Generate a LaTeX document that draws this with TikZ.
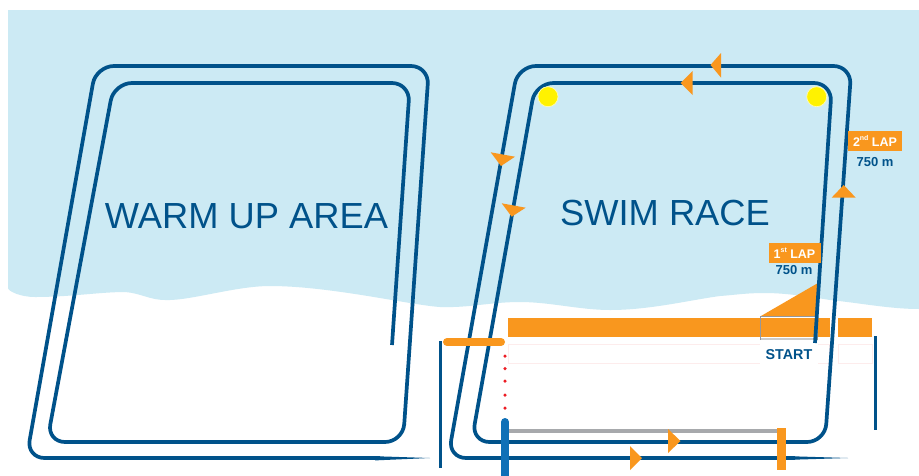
\documentclass[tikz,border=0pt]{standalone}
\usepackage{fontspec}
\setmainfont{Liberation Sans}
\definecolor{course}{HTML}{00528A}
\definecolor{water}{HTML}{CCEAF4}
\definecolor{buoy}{HTML}{F9971E}
\definecolor{mark}{HTML}{FFF200}
\definecolor{post}{HTML}{0F70B7}
\definecolor{railgray}{HTML}{A7A9AC}
\definecolor{dotred}{HTML}{ED1C24}
\definecolor{lanepink}{HTML}{FDECEC}
\tikzset{
 lane/.style={draw=course,line width=3.7pt,rounded corners=18pt,line join=round},
 bar/.style={draw=course,line width=3.7pt},
 tri/.style={fill=buoy,draw=none},
 yellowmark/.style={circle,fill=mark,draw=white!70!mark,line width=0.7pt,minimum size=20pt,inner sep=0pt},
 lapbox/.style={fill=buoy,text=white,font=\bfseries\fontsize{12.5}{12.5}\selectfont,inner sep=0pt,minimum width=52pt,minimum height=20pt},
 dist/.style={text=course,font=\bfseries\fontsize{13}{13}\selectfont,inner sep=0pt},
 bigtxt/.style={text=course,font=\fontsize{36.3}{36.3}\selectfont,inner sep=0pt},
 startlabel/.style={text=course,font=\bfseries\fontsize{14.3}{14.3}\selectfont,inner sep=0pt},
 reddot/.style={circle,fill=dotred,minimum size=3.5pt,inner sep=0pt},
 lanebox/.style={draw=lanepink,line width=0.7pt,fill=white},
}
\begin{document}
\begin{tikzpicture}[x=1pt,y=-1pt]
\useasboundingbox (0,0) rectangle (919,475);
\fill[white] (0,0) rectangle (919,475);
% water
\fill[water] (8,10) -- (919,10) -- (919,309)
 .. controls (890,309) and (860,303) .. (830,300)
 .. controls (800,295) and (780,293) .. (765,293)
 .. controls (745,293) and (735,295) .. (720,296)
 .. controls (690,300) and (650,310) .. (610,310)
 .. controls (580,310) and (550,302) .. (520,302)
 .. controls (490,302) and (470,308) .. (440,307)
 .. controls (410,305) and (330,286) .. (270,286)
 .. controls (235,286) and (190,301) .. (165,300)
 .. controls (150,300) and (140,293) .. (125,292)
 .. controls (100,292) and (70,297) .. (35,297)
 .. controls (20,297) and (8,291) .. (8,288) -- cycle;
% start band
\fill[buoy] (508,318) rectangle (830,337);
\fill[buoy] (838,318) rectangle (872,337);
\draw[lanebox] (508,344) rectangle (829,363);
\draw[lanebox] (838,344) rectangle (872,363);
\fill[white] (760,339) rectangle (818,364);
\fill[buoy] (761,316) -- (818,283) -- (817,316) -- cycle;
\draw[railgray!90!black,line width=0.7pt] (760.5,316.5) rectangle (817,339);
\fill[black!20] (760.5,338) rectangle (817,340);
% warm up loop
\draw[lane] (380,458) -- (26.5,458) -- (96,66) -- (429,66) -- (403,442) -- (47,442) -- (114,83) -- (410,83) -- (392,345);
\fill[course] (375,456.2) -- (430,458) -- (375,460.4) -- cycle;
% race loop
\draw[lane] (795,458) -- (448,458) -- (518,66) -- (851.5,66) -- (825,442) -- (471.5,442) -- (535.5,83) -- (832,83) -- (815,343);
\fill[course] (790,456.2) -- (848,458) -- (790,459.8) -- cycle;
% fences
\draw[bar] (440.5,341) -- (440.5,468);
\draw[bar] (875.5,336) -- (875.5,430);
% entry
\draw[buoy,line width=8pt,line cap=round] (447,342) -- (501,342);
\foreach \n/\y in {a/356,b/368.5,c/381,d/395,e/408}
  \node[reddot] (dot\n) at (505,\y) {};
\draw[railgray,line width=4pt] (506,431) -- (778,431);
\draw[post,line width=8pt,line cap=round] (505,422) -- (505,480);
\fill[buoy] (777,428) rectangle (785.5,470);
% yellow marks
\node[yellowmark] (m1) at (548,96.7) {};
\node[yellowmark] (m2) at (816.7,96.7) {};
% direction triangles
\fill[tri] (721,53) -- (721,77.6) -- (710.5,65) -- cycle;
\fill[tri] (692.7,71) -- (692.7,95) -- (680.5,83) -- cycle;
\fill[tri] (831.7,197.6) -- (855.7,197.6) -- (843.7,185) -- cycle;
\fill[tri] (490.7,152.3) -- (515,156.7) -- (501,166) -- cycle;
\fill[tri] (501.7,203.3) -- (525.7,207.7) -- (511.7,216.7) -- cycle;
\fill[tri] (668,429) -- (668,453) -- (680.5,441) -- cycle;
\fill[tri] (630,446) -- (630,470) -- (642,458) -- cycle;
% labels
\node[bigtxt] (warm) at (246.5,216) {WARM UP AREA};
\node[bigtxt] (swim) at (665,213) {SWIM RACE};
\node[lapbox] (lap1) at (794.5,253) {1\raisebox{0.45em}{\fontsize{7}{7}\selectfont st} LAP};
\node[dist] (d1) at (794,270) {750 m};
\node[lapbox,minimum width=54pt] (lap2) at (875,141) {2\raisebox{0.45em}{\fontsize{7}{7}\selectfont nd} LAP};
\node[dist] (d2) at (875,162) {750 m};
\node[startlabel] (start) at (789,355) {START};
\end{tikzpicture}
\end{document}
